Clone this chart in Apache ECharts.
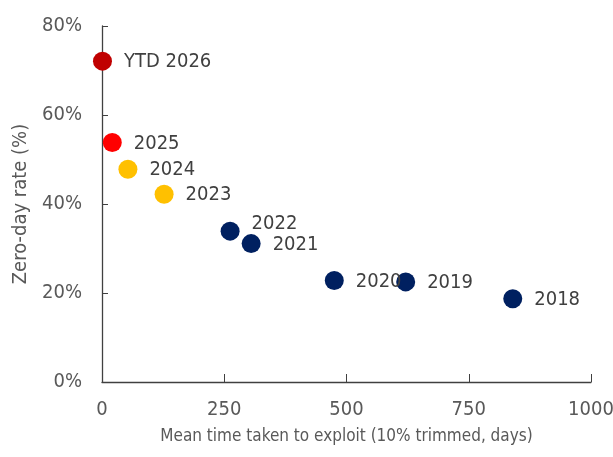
<!DOCTYPE html>
<html>
<head>
<meta charset="utf-8">
<script src="https://cdn.jsdelivr.net/npm/echarts@6/dist/echarts.min.js"></script>
<style>html,body{margin:0;padding:0;background:#fff}#c{width:613px;height:457px}</style>
</head>
<body>
<div id="c"></div>
<script>
const labels = ['YTD 2026', '2025', '2024', '2023', '2022', '2021', '2020', '2019', '2018'];
const meanDays = [1, 21, 53, 127, 262, 305, 475, 621, 840];
const zeroDayRate = [72.1, 53.8, 47.8, 42.2, 33.9, 31.1, 22.8, 22.5, 18.7];
const xTicks = [0, 250, 500, 750, 1000];
const yTicks = [0, 20, 40, 60, 80];

const colorByLabel = {
  'YTD 2026': '#C00000', '2025': '#FF0000', '2024': '#FFC000', '2023': '#FFC000'
};
const defaultColor = '#002060';
const labelShift = { '2022': [0, -7] };

const FONT = '"DejaVu Sans Condensed", "Liberation Sans Narrow", sans-serif';

const data = labels.map((l, i) => ({
  value: [meanDays[i], zeroDayRate[i]],
  name: l,
  itemStyle: { color: colorByLabel[l] || defaultColor, opacity: 1 },
  label: { offset: labelShift[l] || [0, 1] }
}));

const chart = echarts.init(document.getElementById('c'), null, { renderer: 'canvas' });
chart.setOption({
  animation: false,
  grid: { left: 102, right: 22, top: 26, bottom: 75, containLabel: false, outerBoundsMode: 'none' },
  xAxis: {
    type: 'value', min: xTicks[0], max: xTicks[xTicks.length - 1], interval: 250,
    name: 'Mean time taken to exploit (10% trimmed, days)',
    nameLocation: 'middle', nameGap: 46,
    nameTextStyle: { fontFamily: FONT, fontSize: 17, color: '#595959' },
    axisLine: { show: true, lineStyle: { color: '#404040', width: 1.3 } },
    axisTick: { show: true, inside: true, length: 8, lineStyle: { color: '#404040' } },
    axisLabel: { fontFamily: FONT, fontSize: 20, color: '#595959', margin: 18, formatter: v => String(v) },
    splitLine: { show: false }
  },
  yAxis: {
    type: 'value', min: yTicks[0], max: yTicks[yTicks.length - 1], interval: 20,
    name: 'Zero-day rate (%)',
    nameLocation: 'middle', nameGap: 69, nameRotate: 90,
    nameTextStyle: { fontFamily: FONT, fontSize: 20, color: '#595959' },
    axisLine: { show: true, lineStyle: { color: '#404040', width: 1.3 } },
    axisTick: { show: true, inside: true, length: 6, lineStyle: { color: '#404040' } },
    axisLabel: { fontFamily: FONT, fontSize: 20, color: '#595959', margin: 20, formatter: v => v + '%' },
    splitLine: { show: false }
  },
  series: [{
    type: 'scatter',
    symbolSize: 19,
    data: data,
    label: {
      show: true, position: 'right', distance: 12,
      formatter: p => p.name,
      fontFamily: FONT, fontSize: 20, color: '#404040'
    }
  }]
});
</script>
</body>
</html>
